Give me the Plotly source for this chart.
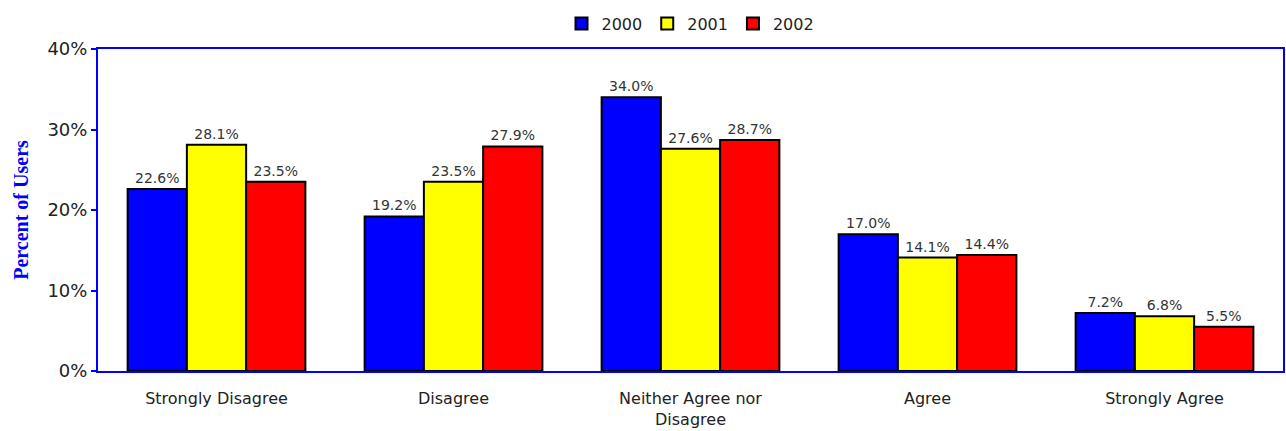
import plotly.graph_objects as go

categories = ["Strongly Disagree", "Disagree", "Neither Agree nor<br>Disagree", "Agree", "Strongly Agree"]
years = ["2000", "2001", "2002"]
values_2000 = [22.6, 19.2, 34.0, 17.0, 7.2]
values_2001 = [28.1, 23.5, 27.6, 14.1, 6.8]
values_2002 = [23.5, 27.9, 28.7, 14.4, 5.5]
colors = ["#0000FF", "#FFFF00", "#FF0000"]
tick_vals = [0, 10, 20, 30, 40]
tick_text = ["0%", "10%", "20%", "30%", "40%"]

fig = go.Figure()
for name, vals, col in zip(years, [values_2000, values_2001, values_2002], colors):
    fig.add_trace(go.Bar(
        x=categories, y=vals, name=name,
        marker=dict(color=col, line=dict(color="black", width=2)),
        text=[f"{v:.1f}%" for v in vals], textposition="outside",
        textfont=dict(family="DejaVu Sans", size=14, color="#333333"),
        cliponaxis=False,
    ))

fig.update_layout(
    width=1286, height=431,
    margin=dict(l=98, r=3, t=49, b=60, autoexpand=False),
    paper_bgcolor="white", plot_bgcolor="white",
    barmode="group", bargap=0.25, bargroupgap=0,
    font=dict(family="DejaVu Sans", size=15, color="#222222"),
    legend=dict(orientation="h", x=0.5, xanchor="center", y=0.945, yanchor="middle",
                yref="container",
                font=dict(size=16, color="#222222"), itemwidth=30, tracegroupgap=0),
    showlegend=True,
)
fig.update_xaxes(showline=True, linecolor="#0000FF", linewidth=2, mirror=True,
                 ticks="outside", ticklen=12, tickcolor="rgba(0,0,0,0)", automargin=False,
                 tickfont=dict(size=16, color="#222222"), showgrid=False)
fig.update_yaxes(range=[0, 40], tickvals=tick_vals, ticktext=tick_text, automargin=False,
                 showline=True, linecolor="#0000FF", linewidth=2, mirror=True,
                 ticks="outside", ticklen=5, tickcolor="#0000FF", tickwidth=2,
                 tickfont=dict(size=18, color="#222222"), showgrid=False,
                 title=dict(text="<b>Percent of Users</b>",
                            font=dict(family="Liberation Serif", size=20, color="#0000FF"),
                            standoff=13))

fig.write_html("out.html", config={"displayModeBar": False},
               post_script="document.body.style.margin='0';document.body.style.overflow='hidden';")
